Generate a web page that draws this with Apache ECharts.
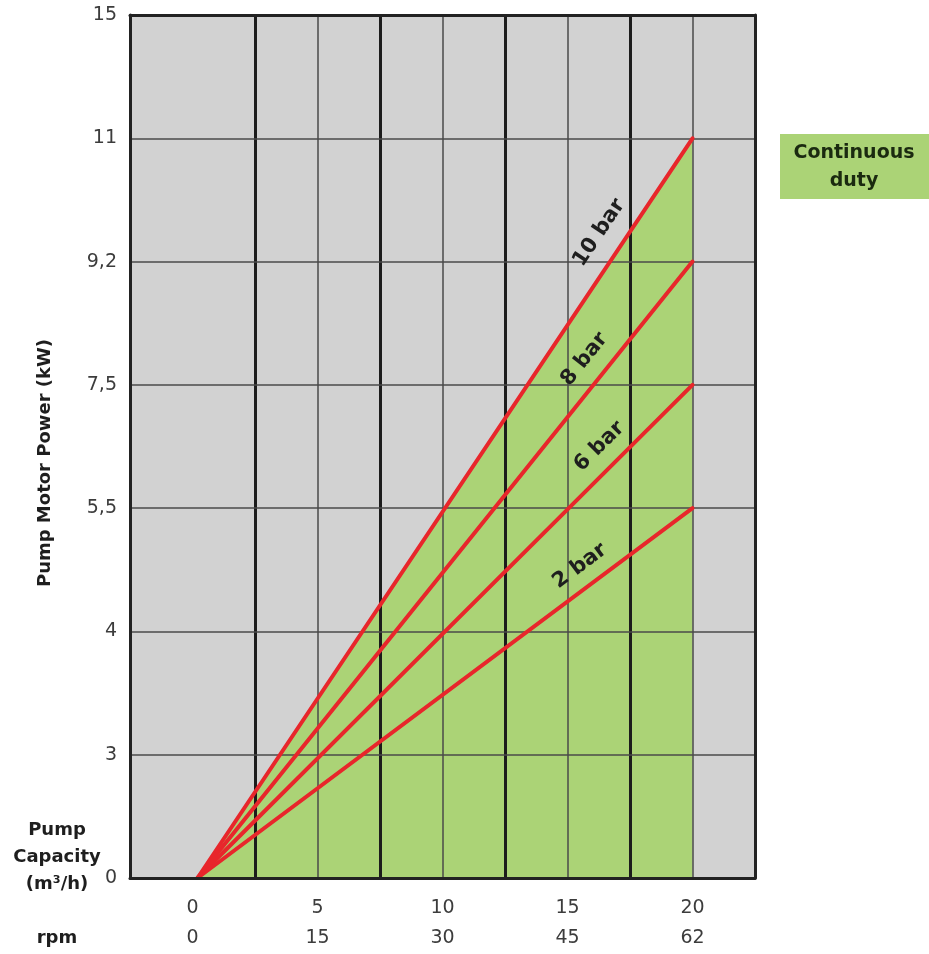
<!DOCTYPE html>
<html>
<head>
<meta charset="utf-8">
<script src="https://cdn.jsdelivr.net/npm/echarts@6/dist/echarts.min.js"></script>
<style>
  html, body { margin: 0; padding: 0; background: #ffffff; }
  #chart { width: 929px; height: 954px; }
</style>
</head>
<body>
<div id="chart"></div>
<script>
// ---------- data ----------
const yTickValues = [0, 3, 4, 5.5, 7.5, 9.2, 11, 15];
const yTickLabels = ['0', '3', '4', '5,5', '7,5', '9,2', '11', '15'];
const capacityTicks = [0, 5, 10, 15, 20];
const capacityLabels = ['0', '5', '10', '15', '20'];
const rpmLabels = ['0', '15', '30', '45', '62'];
const thinGridX = [5, 10, 15, 20];
const thickGridX = [2.5, 7.5, 12.5, 17.5];
const lineNames = ['10 bar', '8 bar', '6 bar', '2 bar'];
const capacityStart = 0.2;   // m3/h where lines begin
const capacityEnd = 20;      // m3/h where lines end
const powerStart = 0;        // kW
const powerEnd = [11, 9.2, 7.5, 5.5]; // kW at capacity 20
const legendText = 'Continuous\nduty';

// ---------- styling / layout ----------
const FONT = '"DejaVu Sans", sans-serif';
const GREEN = '#abd376';
const RED = '#e8262b';
const BG = '#d2d2d2';
const labelAtCapacity = [17.1, 16.4, 16.9, 16.0]; // where each line label sits along its line
const labelOffset = [25, 23, 22, 21];             // px away from the line

// The power axis is drawn with evenly spaced ticks: map a power value to its tick index.
function powerPos(v) { return yTickValues.indexOf(v); }

const chart = echarts.init(document.getElementById('chart'), null, { renderer: 'canvas' });

const gridMarkLines = []
  .concat(thinGridX.map(v => ({ xAxis: v, lineStyle: { color: '#4a4a4a', width: 1.5, type: 'solid' } })))
  .concat(thickGridX.map(v => ({ xAxis: v, lineStyle: { color: '#1c1c1c', width: 3, type: 'solid' } })))
  .concat(yTickValues.slice(1, -1).map(v => ({ yAxis: powerPos(v), lineStyle: { color: '#4a4a4a', width: 1.5, type: 'solid' } })));

const lineSeries = lineNames.map((name, i) => ({
  name: name,
  type: 'line',
  data: [[capacityStart, powerPos(powerStart)], [capacityEnd, powerPos(powerEnd[i])]],
  symbol: 'none',
  lineStyle: { color: RED, width: 4, cap: 'round' },
  z: 3,
  silent: true
}));

const axisLineStyle = { show: true, onZero: false, lineStyle: { color: '#222', width: 3 } };

chart.setOption({
  animation: false,
  backgroundColor: '#ffffff',
  grid: { left: 130, right: 174, top: 15, bottom: 76, show: true, backgroundColor: BG, borderWidth: 0 },
  xAxis: [
    {
      type: 'value', min: -2.5, max: 22.5, interval: 2.5, position: 'bottom',
      axisLine: axisLineStyle, axisTick: { show: false }, splitLine: { show: false },
      axisLabel: {
        margin: 15, lineHeight: 30, fontSize: 19, fontFamily: FONT, color: '#3c3c3c',
        showMinLabel: true, showMaxLabel: true,
        formatter: function (v) {
          const i = capacityTicks.indexOf(v);
          return i < 0 ? '' : capacityLabels[i] + '\n' + rpmLabels[i];
        }
      },
      z: 10
    },
    {
      type: 'value', min: -2.5, max: 22.5, interval: 2.5, position: 'top',
      axisLine: axisLineStyle, axisTick: { show: false }, splitLine: { show: false },
      axisLabel: { show: false }, z: 10
    }
  ],
  yAxis: [
    {
      type: 'value', min: 0, max: 7, interval: 1, position: 'left',
      axisLine: axisLineStyle, axisTick: { show: false }, splitLine: { show: false },
      axisLabel: {
        margin: 13, fontSize: 19, fontFamily: FONT, color: '#3c3c3c',
        formatter: function (v) { return yTickLabels[v] !== undefined ? yTickLabels[v] : ''; }
      },
      z: 10
    },
    {
      type: 'value', min: 0, max: 7, interval: 1, position: 'right',
      axisLine: axisLineStyle, axisTick: { show: false }, splitLine: { show: false },
      axisLabel: { show: false }, z: 10
    }
  ],
  series: [
    {
      name: 'Continuous duty',
      type: 'line',
      data: [[capacityStart, powerPos(powerStart)], [capacityEnd, powerPos(powerEnd[0])]],
      symbol: 'none',
      lineStyle: { width: 0 },
      areaStyle: { color: GREEN, opacity: 1 },
      z: 1,
      silent: true,
      markLine: {
        silent: true, symbol: ['none', 'none'], label: { show: false },
        z: 2, animation: false,
        data: gridMarkLines
      }
    }
  ].concat(lineSeries)
});

// ---------- texts placed from the axis scales ----------
const graphics = [];
lineNames.forEach((name, i) => {
  const p0 = chart.convertToPixel({ gridIndex: 0 }, [capacityStart, powerPos(powerStart)]);
  const p1 = chart.convertToPixel({ gridIndex: 0 }, [capacityEnd, powerPos(powerEnd[i])]);
  const dx = p1[0] - p0[0], dy = p1[1] - p0[1];
  const len = Math.sqrt(dx * dx + dy * dy);
  const ux = dx / len, uy = dy / len;
  const t = (labelAtCapacity[i] - capacityStart) / (capacityEnd - capacityStart);
  const fx = p0[0] + t * dx, fy = p0[1] + t * dy;
  const nx = uy, ny = -ux; // upper-left normal
  graphics.push({
    type: 'text',
    x: fx + nx * labelOffset[i], y: fy + ny * labelOffset[i],
    rotation: Math.atan2(-dy, dx),
    z: 20,
    style: {
      text: name, font: 'bold 21px ' + FONT, fill: '#1e1e1e',
      align: 'center', verticalAlign: 'middle', textAlign: 'center', textVerticalAlign: 'middle'
    }
  });
});

// y axis title
graphics.push({
  type: 'text', x: 45, y: 463, rotation: Math.PI / 2, z: 20,
  style: { text: 'Pump Motor Power (kW)', font: 'bold 18px ' + FONT, fill: '#1e1e1e',
    align: 'center', verticalAlign: 'middle', textAlign: 'center', textVerticalAlign: 'middle' }
});
// x axis titles
graphics.push({
  type: 'text', x: 57, y: 857, z: 20,
  style: { text: 'Pump\nCapacity\n(m³/h)', font: 'bold 18px ' + FONT, fill: '#1e1e1e', lineHeight: 27,
    align: 'center', verticalAlign: 'middle', textAlign: 'center', textVerticalAlign: 'middle' }
});
graphics.push({
  type: 'text', x: 57, y: 938, z: 20,
  style: { text: 'rpm', font: 'bold 18px ' + FONT, fill: '#1e1e1e',
    align: 'center', verticalAlign: 'middle', textAlign: 'center', textVerticalAlign: 'middle' }
});
// legend box
graphics.push({
  type: 'rect', z: 15, shape: { x: 780, y: 134, width: 149, height: 65 }, style: { fill: GREEN }
});
graphics.push({
  type: 'text', x: 854, y: 167, z: 20,
  style: { text: legendText, font: 'bold 19px ' + FONT, fill: '#1b2a10', lineHeight: 28,
    align: 'center', verticalAlign: 'middle', textAlign: 'center', textVerticalAlign: 'middle' }
});

chart.setOption({ graphic: graphics });
</script>
</body>
</html>
